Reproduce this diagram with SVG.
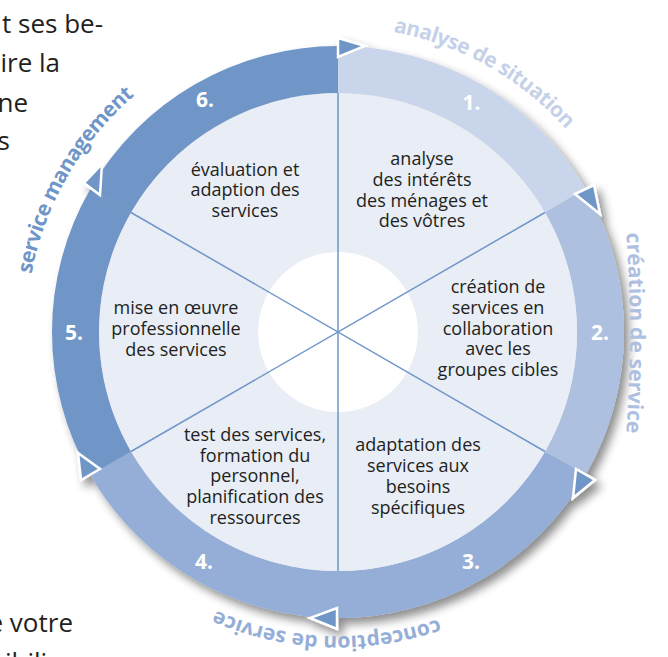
<svg xmlns="http://www.w3.org/2000/svg" width="668" height="657" viewBox="0 0 668 657">
<style>
.para{font-family:"Open Sans","Noto Sans",sans-serif;font-size:26px;fill:#231f20}
.txt{font-family:"Open Sans","Noto Sans",sans-serif;font-size:18px;fill:#231f20;text-anchor:middle}
.num{font-family:"Open Sans","Noto Sans",sans-serif;font-size:21px;font-weight:bold;fill:#fff;text-anchor:middle}
.arc{font-family:"Open Sans","Noto Sans",sans-serif;font-size:21px;font-weight:bold;text-anchor:middle}
.arrow{fill:#6f96c8;stroke:#fff;stroke-width:2.5;stroke-linejoin:miter}
.div{stroke:#6f96c8;stroke-width:1.5;fill:none}
</style>
<defs>
<filter id="sh" x="-15%" y="-15%" width="135%" height="135%">
<feGaussianBlur in="SourceAlpha" stdDeviation="5"/>
<feOffset dx="5" dy="6" result="o"/>
<feComponentTransfer><feFuncA type="linear" slope="0.45"/></feComponentTransfer>
<feMerge><feMergeNode/><feMergeNode in="SourceGraphic"/></feMerge>
</filter>
<path id="pA" d="M 338 27 A 305 305 0 0 1 598.9 174"/>
<path id="pB" d="M 624 203 A 1500 1500 0 0 1 624 463"/>
<path id="pC" d="M 598.6 488.6 A 304 304 0 0 1 72.1 479.4"/>
<path id="pD" d="M 26 332 A 312 312 0 0 1 182 61.8"/>
</defs>
<rect width="668" height="657" fill="#fff"/>
<g id="paragraph">
<text class="para" x="103" y="33" text-anchor="end">t ses be-</text>
<text class="para" x="60" y="72" text-anchor="end">ire la</text>
<text class="para" x="28" y="112" text-anchor="end">ne</text>
<text class="para" x="10" y="150" text-anchor="end">s</text>
<text class="para" x="73" y="632" text-anchor="end">e votre</text>
<text class="para" x="5" y="671">ibili</text>
</g>
<g id="ring" filter="url(#sh)">
<path id="seg1" fill="#c9d5ea" d="M 338 46 A 286 286 0 0 1 585.68 189 L 544.98 212.5 A 239 239 0 0 0 338 93 Z"/>
<path id="seg2" fill="#aec0e0" d="M 585.68 189 A 286 286 0 0 1 585.68 475 L 544.98 451.5 A 239 239 0 0 0 544.98 212.5 Z"/>
<path id="seg3" fill="#94aed7" d="M 585.68 475 A 286 286 0 0 1 338 618 L 338 571 A 239 239 0 0 0 544.98 451.5 Z"/>
<path id="seg4" fill="#94aed7" d="M 338 618 A 286 286 0 0 1 90.32 475 L 131.02 451.5 A 239 239 0 0 0 338 571 Z"/>
<path id="seg5" fill="#6f96c8" d="M 90.32 475 A 286 286 0 0 1 90.32 189 L 131.02 212.5 A 239 239 0 0 0 131.02 451.5 Z"/>
<path id="seg6" fill="#6f96c8" d="M 90.32 189 A 286 286 0 0 1 338 46 L 338 93 A 239 239 0 0 0 131.02 212.5 Z"/>
<polygon class="arrow" points="338,38 338,57 365,46"/>
<polygon class="arrow" points="575,194 594,185 600,214"/>
<polygon class="arrow" points="576,469 573,498 595,480"/>
<polygon class="arrow" points="337,608 337,629 310,618"/>
<polygon class="arrow" points="78,453 81,480 100,469"/>
<polygon class="arrow" points="102,164 100,195 84,183"/>
</g>
<g id="disc">
<circle cx="338" cy="332" r="239" fill="#e8edf6"/>
<circle cx="338" cy="332" r="80" fill="#fff"/>
</g>
<g id="connectors">
<line class="div" x1="338" y1="93" x2="338" y2="571"/>
<line class="div" x1="544.98" y1="212.5" x2="131.02" y2="451.5"/>
<line class="div" x1="544.98" y1="451.5" x2="131.02" y2="212.5"/>
</g>
<g id="step1">
<text class="num" x="471.5" y="110">1.</text>
<text class="txt" x="422" y="165">analyse</text>
<text class="txt" x="422" y="186">des intérêts</text>
<text class="txt" x="422" y="207">des ménages et</text>
<text class="txt" x="422" y="227">des vôtres</text>
</g>
<g id="step2">
<text class="num" x="600" y="340">2.</text>
<text class="txt" x="498" y="293">création de</text>
<text class="txt" x="498" y="314">services en</text>
<text class="txt" x="498" y="335">collaboration</text>
<text class="txt" x="498" y="355">avec les</text>
<text class="txt" x="498" y="376">groupes cibles</text>
</g>
<g id="step3">
<text class="num" x="471" y="569">3.</text>
<text class="txt" x="418" y="451">adaptation des</text>
<text class="txt" x="418" y="472">services aux</text>
<text class="txt" x="418" y="493">besoins</text>
<text class="txt" x="418" y="514">spécifiques</text>
</g>
<g id="step4">
<text class="num" x="204" y="569">4.</text>
<text class="txt" x="255" y="441">test des services,</text>
<text class="txt" x="255" y="462">formation du</text>
<text class="txt" x="255" y="482">personnel,</text>
<text class="txt" x="255" y="503">planification des</text>
<text class="txt" x="255" y="524">ressources</text>
</g>
<g id="step5">
<text class="num" x="74" y="340">5.</text>
<text class="txt" x="176" y="314">mise en œuvre</text>
<text class="txt" x="176" y="335">professionnelle</text>
<text class="txt" x="176" y="356">des services</text>
</g>
<g id="step6">
<text class="num" x="205" y="107">6.</text>
<text class="txt" x="245" y="176">évaluation et</text>
<text class="txt" x="245" y="196">adaption des</text>
<text class="txt" x="245" y="217">services</text>
</g>
<g id="phases">
<text class="arc" fill="#c5d1e8"><textPath href="#pA" startOffset="50%" textLength="202" lengthAdjust="spacing">analyse de situation</textPath></text>
<text class="arc" fill="#aec0e0"><textPath href="#pB" startOffset="50%" textLength="200" lengthAdjust="spacing">création de service</textPath></text>
<text class="arc" fill="#94aed7"><textPath href="#pC" startOffset="51%" textLength="228" lengthAdjust="spacing">conception de service</textPath></text>
<text class="arc" fill="#6f96c8"><textPath href="#pD" startOffset="50%" textLength="210" lengthAdjust="spacing">service management</textPath></text>
</g>
</svg>
